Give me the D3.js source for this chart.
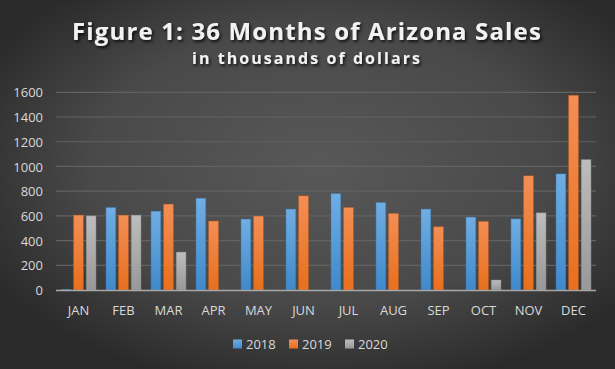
<!DOCTYPE html>
<html><head><meta charset="utf-8">
<script src="https://cdn.jsdelivr.net/npm/d3@7"></script>
<style>html,body{margin:0;padding:0;background:#3a3a3a;}svg{display:block;}</style>
</head><body>
<script>
const months = ["JAN","FEB","MAR","APR","MAY","JUN","JUL","AUG","SEP","OCT","NOV","DEC"];
const seriesNames = ["2018","2019","2020"];
const sales2018 = [5,668,638,743,574,655,781,709,655,590,576,940];
const sales2019 = [606,606,695,558,598,762,668,620,512,555,924,1576];
const sales2020 = [600,606,307,0,0,0,0,0,0,81,625,1056];
const yTicks = [0,200,400,600,800,1000,1200,1400,1600];

(function(){
const W = 615, H = 369;
const svg = d3.select("body").append("svg").attr("width", W).attr("height", H);
const defs = svg.append("defs");
const bg = defs.append("radialGradient").attr("id","bg").attr("cx","52%").attr("cy","45%").attr("r","62%");
bg.append("stop").attr("offset","0%").attr("stop-color","#585858");
bg.append("stop").attr("offset","60%").attr("stop-color","#494949");
bg.append("stop").attr("offset","100%").attr("stop-color","#2a2a2a");
svg.append("rect").attr("width",W).attr("height",H).attr("fill","url(#bg)");

const colors = [["#70aee3","#3f89cb"],["#f48e55","#e86f1c"],["#bdbdbd","#989898"]];
colors.forEach((c,i)=>{
  const g = defs.append("linearGradient").attr("id","g"+i).attr("x1",0).attr("y1",0).attr("x2",0).attr("y2",1);
  g.append("stop").attr("offset","0%").attr("stop-color",c[0]);
  g.append("stop").attr("offset","100%").attr("stop-color",c[1]);
});
const sh = defs.append("filter").attr("id","sh").attr("x","-10%").attr("y","-30%").attr("width","120%").attr("height","160%");
sh.append("feDropShadow").attr("dx",1.5).attr("dy",2).attr("stdDeviation",1.5).attr("flood-color","#000").attr("flood-opacity",0.8);

const pLeft = 56, pRight = 596, pTop = 92.3, pBottom = 290;
const x = d3.scaleBand().domain(months).range([pLeft,pRight]).paddingInner(0.22).paddingOuter(0.11);
const xs = d3.scaleBand().domain(seriesNames).range([0,x.bandwidth()]).paddingInner(0.22);
const y = d3.scaleLinear().domain([0,1600]).range([pBottom,pTop]);

svg.append("g").selectAll("line").data(yTicks.filter(d=>d>0)).join("line")
  .attr("x1",pLeft).attr("x2",pRight).attr("y1",d=>y(d)).attr("y2",d=>y(d))
  .attr("stroke","#626262").attr("stroke-width",1.2);

const yAxis = d3.axisLeft(y).tickValues(yTicks).tickFormat(d3.format("d")).tickSize(0).tickPadding(0);
const ya = svg.append("g").attr("transform",`translate(${43},0)`).call(yAxis);
ya.select(".domain").remove();
ya.selectAll("text").attr("fill","#d9d9d9").attr("font-family","Open Sans, sans-serif").attr("font-size",13).attr("dy","0.35em");

const data = [sales2018, sales2019, sales2020];
const series = svg.append("g");
data.forEach((vals,si)=>{
  series.append("g").selectAll("rect").data(vals.map((v,i)=>({m:months[i],v})).filter(d=>d.v>0)).join("rect")
    .attr("x",d=>x(d.m)+xs(seriesNames[si]))
    .attr("width",xs.bandwidth())
    .attr("y",d=>y(d.v))
    .attr("height",d=>y(0)-y(d.v))
    .attr("fill",`url(#g${si})`)
    .attr("stroke",d3.color(colors[si][1]).darker(0.6))
    .attr("stroke-opacity",0.5)
    .attr("stroke-width",0.8);
});

svg.append("line").attr("x1",pLeft).attr("x2",pRight).attr("y1",pBottom+0.5).attr("y2",pBottom+0.5)
  .attr("stroke","#a8a8a8").attr("stroke-width",1.3);

const xAxis = d3.axisBottom(x).tickSize(0).tickPadding(0);
const xa = svg.append("g").attr("transform",`translate(0,${pBottom})`).call(xAxis);
xa.select(".domain").remove();
xa.selectAll("text").attr("fill","#d9d9d9").attr("font-family","Open Sans, sans-serif").attr("font-size",13).attr("dy",0).attr("y",25);

function fitSpacing(t, target){
  const w = t.node().getComputedTextLength();
  const n = t.text().length;
  t.attr("letter-spacing", (target - w)/n);
}
const title = svg.append("text").attr("x",307).attr("y",40).attr("text-anchor","middle")
  .attr("font-family","Open Sans, sans-serif").attr("font-weight","bold").attr("font-size",24)
  .attr("fill","#f2f2f2").attr("filter","url(#sh)")
  .text("Figure 1: 36 Months of Arizona Sales");
fitSpacing(title, 470);
const sub = svg.append("text").attr("x",307).attr("y",64).attr("text-anchor","middle")
  .attr("font-family","Open Sans, sans-serif").attr("font-weight","bold").attr("font-size",16)
  .attr("fill","#f2f2f2").attr("filter","url(#sh)")
  .text("in thousands of dollars");
fitSpacing(sub, 230);

const lg = svg.append("g");
const lx = [233,289,345];
seriesNames.forEach((n,i)=>{
  lg.append("rect").attr("x",lx[i]).attr("y",339.5).attr("width",9).attr("height",9).attr("fill",`url(#g${i})`);
  lg.append("text").attr("x",lx[i]+13).attr("y",349).attr("fill","#d9d9d9")
    .attr("font-family","Open Sans, sans-serif").attr("font-size",13).text(n);
});
})();
</script>
</body></html>
